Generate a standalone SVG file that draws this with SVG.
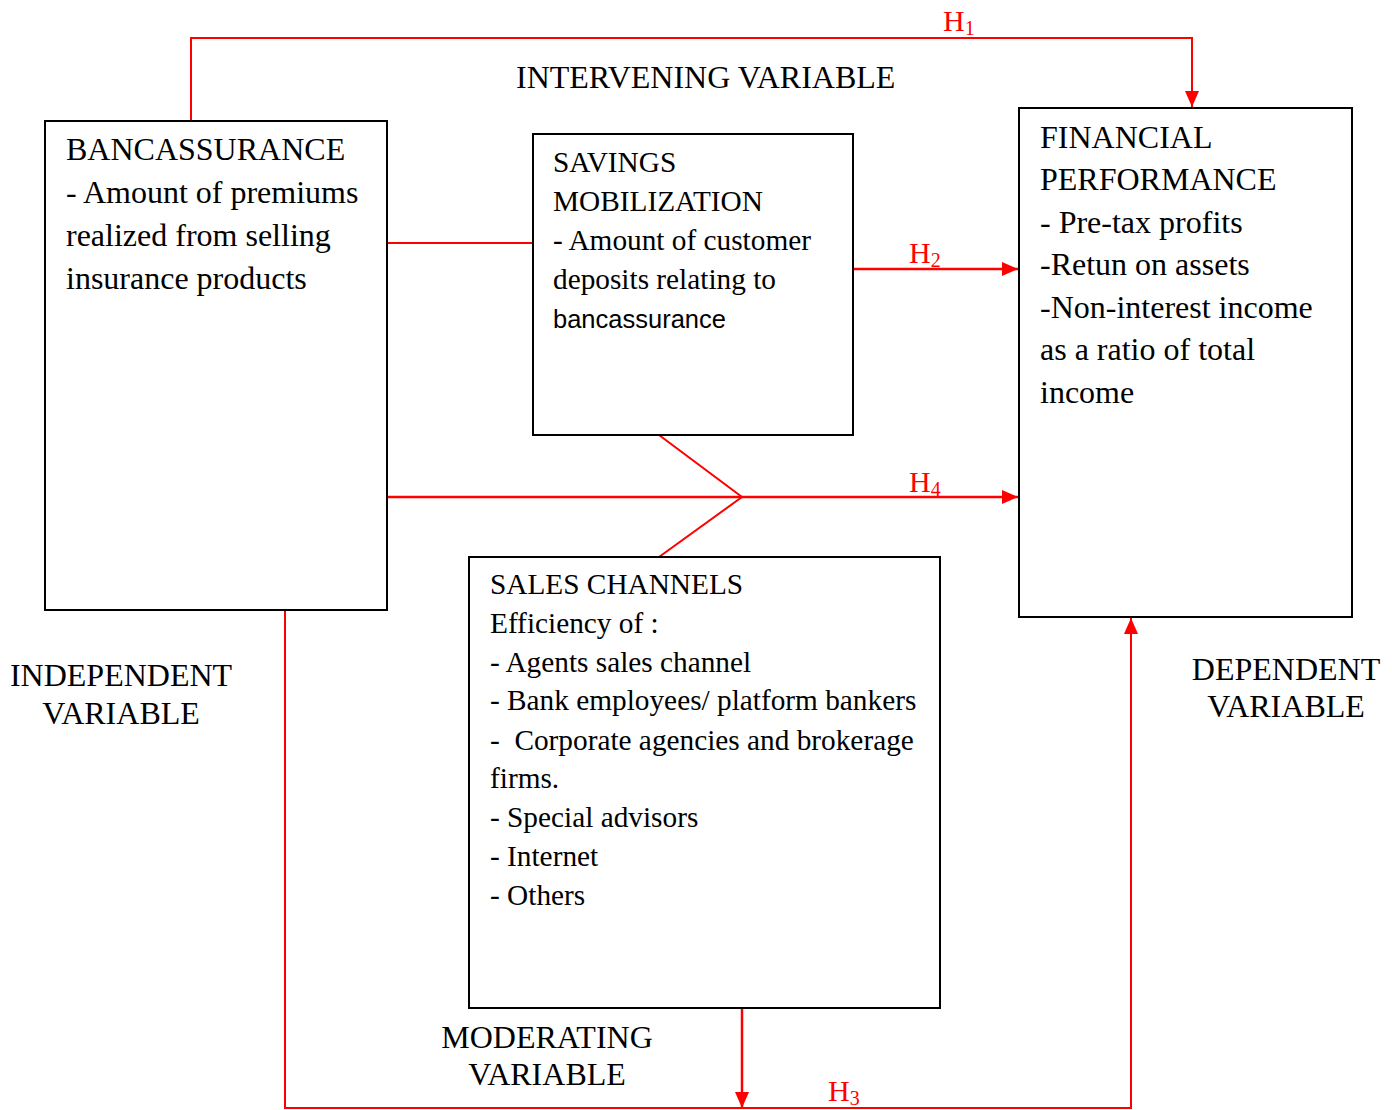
<svg xmlns="http://www.w3.org/2000/svg" width="1392" height="1110" viewBox="0 0 1392 1110">
<defs>
<style>
.box{fill:#fff;stroke:#000;stroke-width:2}
.t{font-family:"Liberation Serif","Times New Roman",serif;font-size:32px;fill:#000}
.s{font-family:"Liberation Serif","Times New Roman",serif;font-size:29.3px;fill:#000}
.sans{font-family:"Liberation Sans",Arial,sans-serif;font-size:25.5px}
.c{stroke:#f00;stroke-width:2;fill:none}
.h{font-family:"Liberation Serif","Times New Roman",serif;font-size:30px;fill:#f00}
.sub{font-size:20px}
</style>
<marker id="ah" viewBox="0 0 16 14" refX="16" refY="7" markerWidth="16" markerHeight="14" markerUnits="userSpaceOnUse" orient="auto">
<path d="M0,0 L16,7 L0,14 Z" fill="#f00"/>
</marker>
</defs>
<rect width="1392" height="1110" fill="#fff"/>
<g id="connectors">
<polyline class="c" points="191,121 191,38 1192,38 1192,107" marker-end="url(#ah)"/>
<line class="c" x1="387" y1="243" x2="533" y2="243"/>
<line class="c" x1="853" y1="269" x2="1018" y2="269" marker-end="url(#ah)" style="stroke-width:2.5"/>
<line class="c" x1="387" y1="497" x2="1018" y2="497" marker-end="url(#ah)" style="stroke-width:2.5"/>
<polyline class="c" points="659,435 742,497 659,557"/>
<polyline class="c" points="285,610 285,1108 1131,1108 1131,618" marker-end="url(#ah)"/>
<line class="c" x1="742" y1="1008" x2="742" y2="1108" marker-end="url(#ah)" style="stroke-width:2.5"/>
<text class="h" x="943" y="31">H<tspan class="sub" dy="4">1</tspan></text>
<text class="h" x="909" y="263">H<tspan class="sub" dy="4">2</tspan></text>
<text class="h" x="909" y="492">H<tspan class="sub" dy="4">4</tspan></text>
<text class="h" x="828" y="1101">H<tspan class="sub" dy="4">3</tspan></text>
</g>
<g id="bancassurance">
<rect class="box" x="45" y="121" width="342" height="489"/>
<text class="t" x="66" y="160">BANCASSURANCE</text>
<text class="t" x="66" y="203">- Amount of premiums</text>
<text class="t" x="66" y="246">realized from selling</text>
<text class="t" x="66" y="289">insurance products</text>
</g>
<g id="savings">
<rect class="box" x="533" y="134" width="320" height="301"/>
<text class="s" x="553" y="172">SAVINGS</text>
<text class="s" x="553" y="211">MOBILIZATION</text>
<text class="s" x="553" y="250">- Amount of customer</text>
<text class="s" x="553" y="289">deposits relating to</text>
<text class="s sans" x="553" y="328">bancassurance</text>
</g>
<g id="financial">
<rect class="box" x="1019" y="108" width="333" height="509"/>
<text class="t" x="1040" y="148">FINANCIAL</text>
<text class="t" x="1040" y="190">PERFORMANCE</text>
<text class="t" x="1040" y="233">- Pre-tax profits</text>
<text class="t" x="1040" y="275">-Retun on assets</text>
<text class="t" x="1040" y="318">-Non-interest income</text>
<text class="t" x="1040" y="360">as a ratio of total</text>
<text class="t" x="1040" y="403">income</text>
</g>
<g id="sales">
<rect class="box" x="469" y="557" width="471" height="451"/>
<text class="s" x="490" y="594">SALES CHANNELS</text>
<text class="s" x="490" y="633">Efficiency of :</text>
<text class="s" x="490" y="672">- Agents sales channel</text>
<text class="s" x="490" y="710">- Bank employees/ platform bankers</text>
<text class="s" x="490" y="750" xml:space="preserve">-  Corporate agencies and brokerage</text>
<text class="s" x="490" y="788">firms.</text>
<text class="s" x="490" y="827">- Special advisors</text>
<text class="s" x="490" y="866">- Internet</text>
<text class="s" x="490" y="905">- Others</text>
</g>
<g id="labels">
<text class="t" x="516" y="88">INTERVENING VARIABLE</text>
<text class="t" x="121" y="686" text-anchor="middle">INDEPENDENT</text>
<text class="t" x="121" y="724" text-anchor="middle">VARIABLE</text>
<text class="t" x="1286" y="680" text-anchor="middle">DEPENDENT</text>
<text class="t" x="1286" y="717" text-anchor="middle">VARIABLE</text>
<text class="t" x="547" y="1048" text-anchor="middle">MODERATING</text>
<text class="t" x="547" y="1085" text-anchor="middle">VARIABLE</text>
</g>
</svg>
